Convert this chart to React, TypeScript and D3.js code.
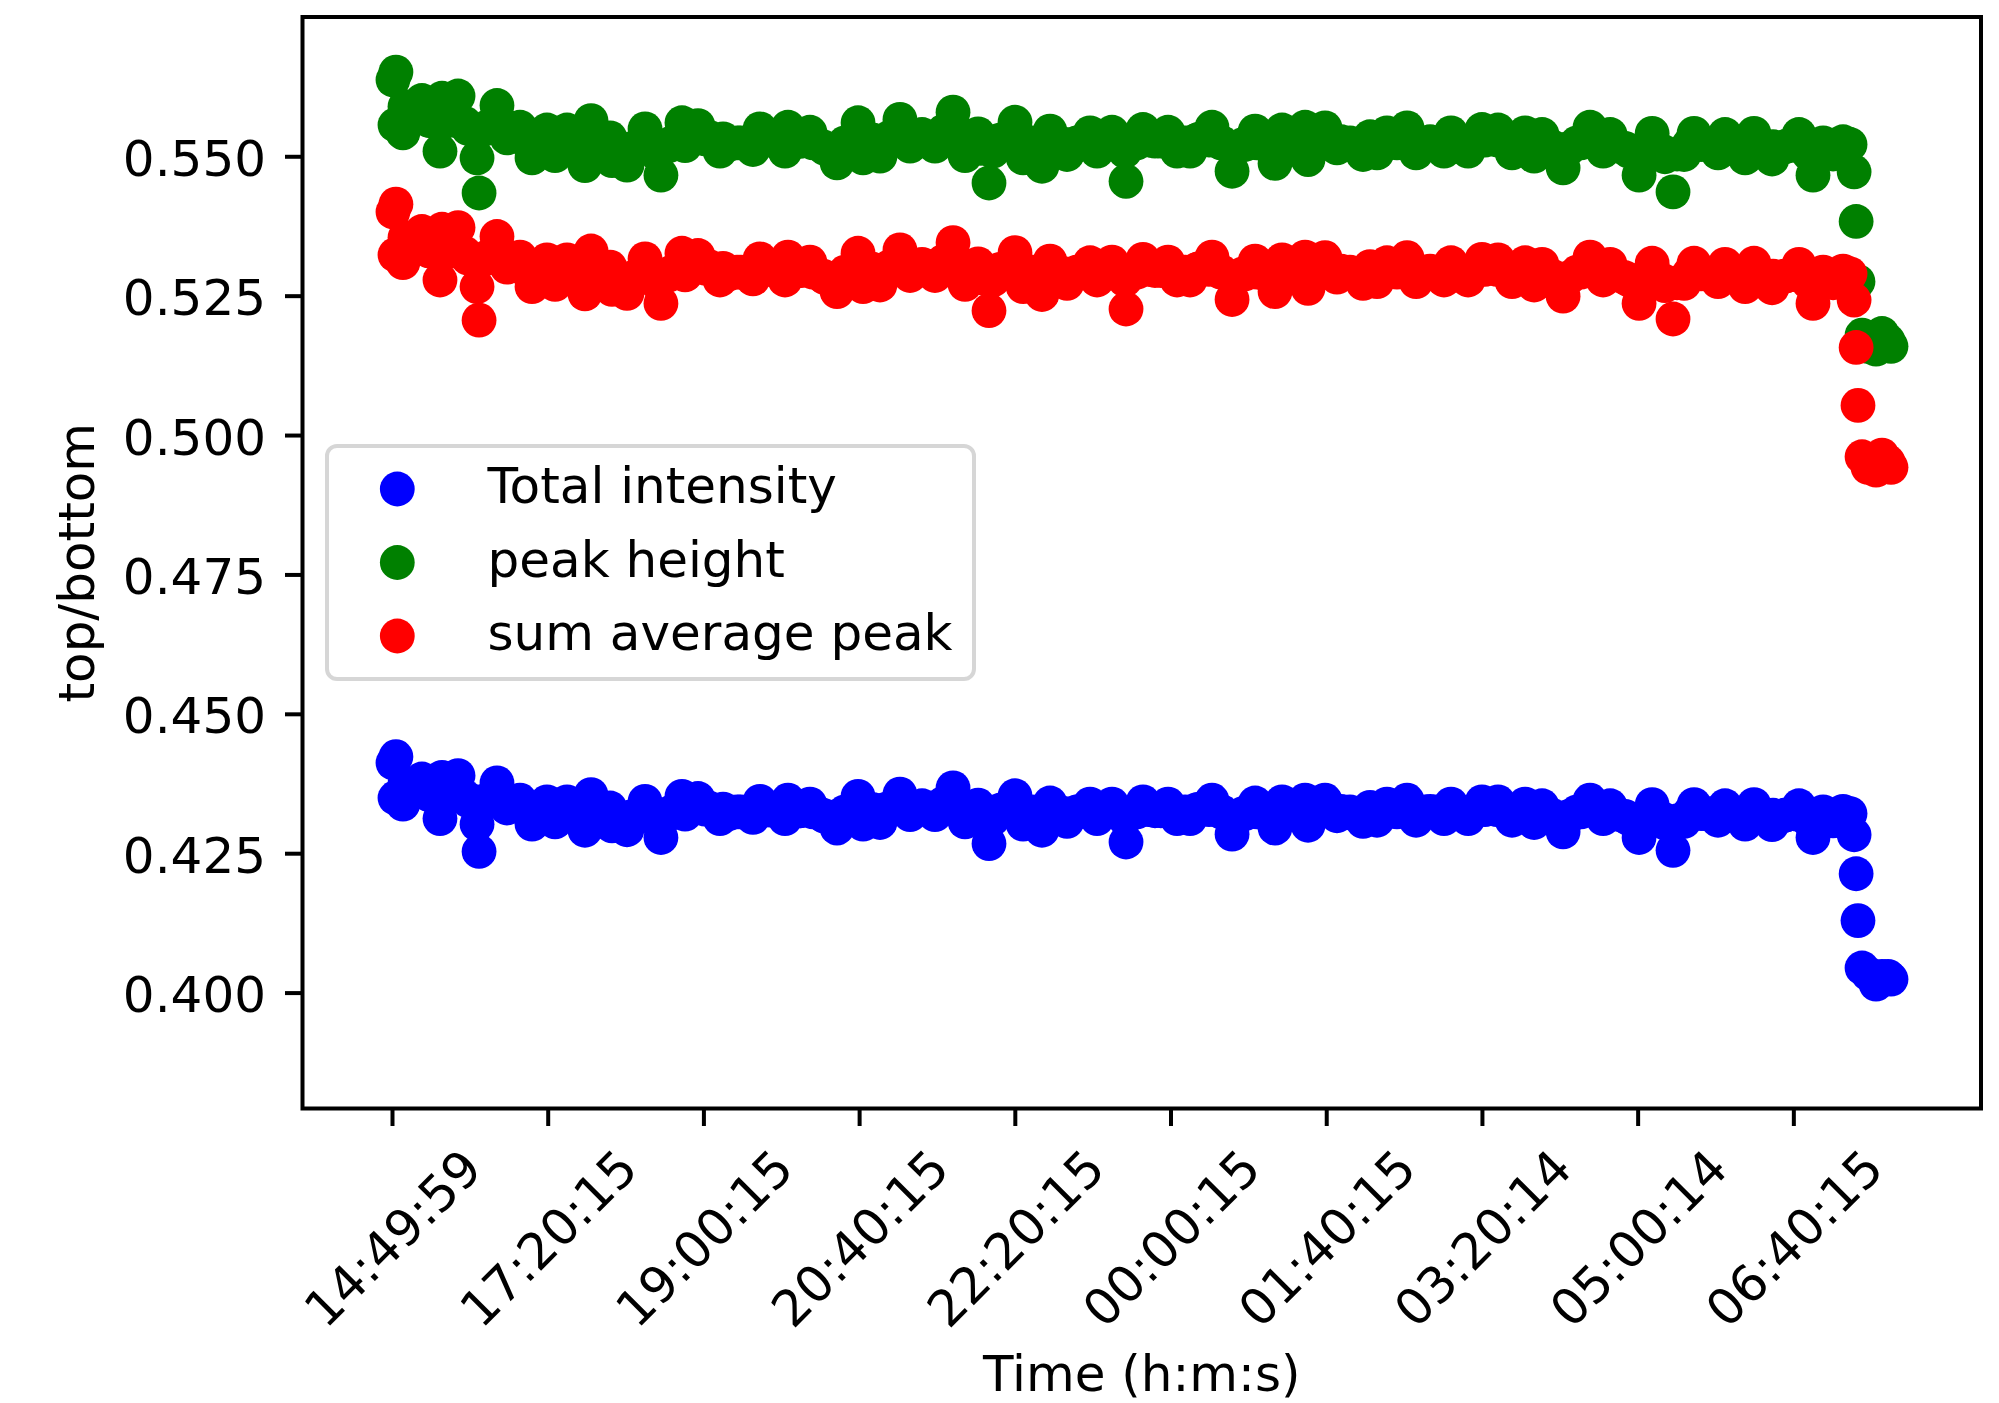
import React from "react";
import * as d3 from "d3";

// sample number along the run (x axis is the sample index; ticks every 100 samples)
// envelope samples: the visible bumps and dips along each band
const sampleIndex = [
  0.3, 1.6, 2.2, 6.7, 8.0, 18.9, 24.1, 30.5, 31.8, 40.1,
  42.1, 48.5, 54.3, 55.6, 59.4, 67.1, 72.3, 73.5, 81.9, 88.3,
  89.6, 99.2, 104.4, 106.3, 112.1, 120.4, 123.6, 127.5, 136.5, 139.7,
  141.0, 150.6, 154.5, 162.2, 168.6, 172.4, 179.5, 185.9, 187.9, 196.2,
  203.3, 210.3, 212.3, 221.3, 231.5, 236.0, 242.5, 252.1, 254.0, 261.7,
  268.1, 276.5, 285.5, 290.6, 299.0, 302.2, 308.0, 313.1, 319.5, 325.9,
  332.4, 340.1, 348.4, 353.6, 360.0, 367.7, 376.1, 383.1, 390.2, 399.8,
  405.0, 410.7, 417.1, 422.3, 427.4, 433.2, 440.3, 448.0, 452.5, 462.1,
  467.2, 471.1, 476.9, 482.0, 489.7, 498.1, 503.9, 512.2, 518.6, 526.3,
  532.7, 539.2, 546.2, 554.0, 560.4, 566.8, 571.3, 579.6, 586.1, 588.0,
  598.9, 606.6, 614.9, 623.3, 627.8, 632.3, 638.7, 645.1, 651.6, 657.4,
  666.4, 675.3, 679.8, 690.8, 699.7, 710.0, 714.5, 719.0, 727.4, 733.2,
  738.3, 744.7, 751.8, 760.8, 769.1, 777.5, 782.0, 791.6, 800.6, 809.0,
  815.4, 822.4, 829.5, 835.9, 843.6, 851.3, 855.8, 862.2, 868.7, 874.4,
  880.2, 886.0, 894.4, 903.3, 912.3, 918.8, 925.2, 931.6, 936.1, 938.7,
  940.0, 941.2, 943.8, 947.6, 952.8, 956.6, 960.5, 962.4,
];

const totalIntensity = [
  0.4413, 0.4350, 0.4424, 0.4339, 0.4368, 0.4384, 0.4356, 0.4313, 0.4387, 0.4356,
  0.4390, 0.4345, 0.4303, 0.4254, 0.4344, 0.4377, 0.4348, 0.4332, 0.4346, 0.4325,
  0.4303, 0.4343, 0.4307, 0.4325, 0.4343, 0.4325, 0.4292, 0.4356, 0.4325, 0.4332,
  0.4300, 0.4293, 0.4317, 0.4344, 0.4317, 0.4279, 0.4325, 0.4353, 0.4321, 0.4349,
  0.4332, 0.4313, 0.4330, 0.4325, 0.4315, 0.4344, 0.4328, 0.4313, 0.4346, 0.4327,
  0.4339, 0.4319, 0.4296, 0.4325, 0.4353, 0.4303, 0.4328, 0.4306, 0.4332, 0.4357,
  0.4320, 0.4336, 0.4320, 0.4340, 0.4368, 0.4307, 0.4337, 0.4268, 0.4328, 0.4354,
  0.4303, 0.4325, 0.4292, 0.4341, 0.4325, 0.4308, 0.4325, 0.4339, 0.4313, 0.4339,
  0.4322, 0.4271, 0.4325, 0.4343, 0.4327, 0.4339, 0.4313, 0.4313, 0.4330, 0.4346,
  0.4325, 0.4285, 0.4322, 0.4341, 0.4322, 0.4296, 0.4343, 0.4325, 0.4346, 0.4301,
  0.4346, 0.4318, 0.4325, 0.4308, 0.4333, 0.4310, 0.4339, 0.4325, 0.4346, 0.4310,
  0.4326, 0.4313, 0.4339, 0.4313, 0.4343, 0.4343, 0.4326, 0.4310, 0.4339, 0.4306,
  0.4336, 0.4319, 0.4289, 0.4325, 0.4346, 0.4313, 0.4336, 0.4317, 0.4279, 0.4338,
  0.4313, 0.4256, 0.4308, 0.4338, 0.4322, 0.4310, 0.4336, 0.4321, 0.4303, 0.4338,
  0.4319, 0.4302, 0.4319, 0.4336, 0.4279, 0.4325, 0.4309, 0.4326, 0.4322, 0.4284,
  0.4214, 0.4130, 0.4045, 0.4035, 0.4016, 0.4030, 0.4030, 0.4025,
];

const peakHeight = [
  0.5638, 0.5557, 0.5652, 0.5543, 0.5580, 0.5601, 0.5565, 0.5510, 0.5605, 0.5565,
  0.5609, 0.5551, 0.5498, 0.5435, 0.5550, 0.5592, 0.5555, 0.5534, 0.5553, 0.5525,
  0.5498, 0.5548, 0.5502, 0.5525, 0.5548, 0.5525, 0.5484, 0.5565, 0.5525, 0.5534,
  0.5493, 0.5485, 0.5515, 0.5550, 0.5515, 0.5467, 0.5525, 0.5561, 0.5520, 0.5556,
  0.5535, 0.5510, 0.5532, 0.5525, 0.5513, 0.5550, 0.5530, 0.5510, 0.5553, 0.5528,
  0.5544, 0.5518, 0.5489, 0.5525, 0.5561, 0.5498, 0.5530, 0.5501, 0.5535, 0.5567,
  0.5519, 0.5540, 0.5519, 0.5545, 0.5580, 0.5502, 0.5541, 0.5453, 0.5530, 0.5562,
  0.5498, 0.5525, 0.5483, 0.5546, 0.5525, 0.5504, 0.5525, 0.5543, 0.5510, 0.5544,
  0.5522, 0.5456, 0.5525, 0.5549, 0.5528, 0.5544, 0.5510, 0.5510, 0.5532, 0.5553,
  0.5525, 0.5474, 0.5522, 0.5546, 0.5522, 0.5488, 0.5548, 0.5525, 0.5553, 0.5495,
  0.5552, 0.5516, 0.5525, 0.5504, 0.5536, 0.5507, 0.5543, 0.5525, 0.5552, 0.5507,
  0.5527, 0.5510, 0.5543, 0.5510, 0.5549, 0.5548, 0.5527, 0.5507, 0.5543, 0.5501,
  0.5540, 0.5518, 0.5480, 0.5525, 0.5553, 0.5510, 0.5540, 0.5515, 0.5467, 0.5542,
  0.5510, 0.5437, 0.5504, 0.5542, 0.5522, 0.5507, 0.5540, 0.5520, 0.5498, 0.5542,
  0.5518, 0.5496, 0.5518, 0.5540, 0.5467, 0.5525, 0.5505, 0.5527, 0.5522, 0.5473,
  0.5384, 0.5276, 0.5180, 0.5160, 0.5155, 0.5183, 0.5170, 0.5160,
];

const sumAveragePeak = [
  0.5401, 0.5324, 0.5415, 0.5310, 0.5346, 0.5366, 0.5331, 0.5279, 0.5370, 0.5331,
  0.5373, 0.5318, 0.5267, 0.5207, 0.5317, 0.5357, 0.5322, 0.5302, 0.5320, 0.5293,
  0.5267, 0.5315, 0.5271, 0.5293, 0.5315, 0.5293, 0.5254, 0.5331, 0.5293, 0.5302,
  0.5262, 0.5255, 0.5283, 0.5317, 0.5283, 0.5237, 0.5293, 0.5327, 0.5288, 0.5323,
  0.5303, 0.5279, 0.5300, 0.5293, 0.5281, 0.5317, 0.5298, 0.5279, 0.5320, 0.5296,
  0.5311, 0.5286, 0.5258, 0.5293, 0.5327, 0.5267, 0.5298, 0.5270, 0.5303, 0.5333,
  0.5287, 0.5307, 0.5287, 0.5312, 0.5346, 0.5271, 0.5308, 0.5224, 0.5298, 0.5328,
  0.5267, 0.5293, 0.5253, 0.5313, 0.5293, 0.5273, 0.5293, 0.5310, 0.5279, 0.5311,
  0.5290, 0.5227, 0.5293, 0.5316, 0.5296, 0.5311, 0.5279, 0.5279, 0.5300, 0.5320,
  0.5293, 0.5244, 0.5290, 0.5313, 0.5290, 0.5258, 0.5315, 0.5293, 0.5320, 0.5264,
  0.5319, 0.5284, 0.5293, 0.5273, 0.5303, 0.5276, 0.5310, 0.5293, 0.5319, 0.5276,
  0.5295, 0.5279, 0.5310, 0.5279, 0.5316, 0.5315, 0.5295, 0.5276, 0.5310, 0.5270,
  0.5307, 0.5286, 0.5250, 0.5293, 0.5320, 0.5279, 0.5307, 0.5283, 0.5237, 0.5309,
  0.5279, 0.5209, 0.5273, 0.5309, 0.5290, 0.5276, 0.5307, 0.5288, 0.5267, 0.5309,
  0.5286, 0.5265, 0.5286, 0.5307, 0.5237, 0.5293, 0.5274, 0.5295, 0.5290, 0.5243,
  0.5158, 0.5054, 0.4962, 0.4943, 0.4938, 0.4965, 0.4953, 0.4943,
];

// band-centre samples (the solid middle of each band)
const coreIndex = [
  8.0, 15.7, 23.4, 31.1, 38.8, 46.5, 54.2, 62.0, 69.7, 77.4,
  85.1, 92.8, 100.5, 108.2, 115.9, 123.6, 131.3, 139.0, 146.7, 154.4,
  162.1, 169.8, 177.6, 185.3, 193.0, 200.7, 208.4, 216.1, 223.8, 231.5,
  239.2, 246.9, 254.6, 262.3, 270.0, 277.7, 285.5, 293.2, 300.9, 308.6,
  316.3, 324.0, 331.7, 339.4, 347.1, 354.8, 362.5, 370.2, 377.9, 385.6,
  393.4, 401.1, 408.8, 416.5, 424.2, 431.9, 439.6, 447.3, 455.0, 462.7,
  470.4, 478.1, 485.8, 493.5, 501.3, 509.0, 516.7, 524.4, 532.1, 539.8,
  547.5, 555.2, 562.9, 570.6, 578.3, 586.0, 593.7, 601.4, 609.2, 616.9,
  624.6, 632.3, 640.0, 647.7, 655.4, 663.1, 670.8, 678.5, 686.2, 693.9,
  701.6, 709.3, 717.1, 724.8, 732.5, 740.2, 747.9, 755.6, 763.3, 771.0,
  778.7, 786.4, 794.1, 801.8, 809.5, 817.2, 825.0, 832.7, 840.4, 848.1,
  855.8, 863.5, 871.2, 878.9, 886.6, 894.3, 902.0, 909.7, 917.4, 925.1,
  932.9,
];

const coreTotalIntensity = [
  0.4376, 0.4364, 0.4356, 0.4352, 0.4364, 0.4352, 0.4343, 0.4348, 0.4352, 0.4336,
  0.4329, 0.4323, 0.4325, 0.4325, 0.4325, 0.4322, 0.4329, 0.4317, 0.4313, 0.4317,
  0.4319, 0.4309, 0.4321, 0.4335, 0.4335, 0.4330, 0.4325, 0.4322, 0.4325, 0.4327,
  0.4329, 0.4329, 0.4329, 0.4327, 0.4325, 0.4317, 0.4317, 0.4325, 0.4329, 0.4329,
  0.4329, 0.4336, 0.4336, 0.4332, 0.4332, 0.4340, 0.4340, 0.4325, 0.4317, 0.4313,
  0.4327, 0.4332, 0.4321, 0.4317, 0.4325, 0.4322, 0.4325, 0.4326, 0.4326, 0.4325,
  0.4313, 0.4325, 0.4329, 0.4327, 0.4326, 0.4325, 0.4329, 0.4329, 0.4325, 0.4314,
  0.4322, 0.4325, 0.4321, 0.4322, 0.4325, 0.4325, 0.4326, 0.4330, 0.4326, 0.4322,
  0.4321, 0.4323, 0.4326, 0.4329, 0.4326, 0.4325, 0.4325, 0.4326, 0.4325, 0.4326,
  0.4329, 0.4329, 0.4325, 0.4322, 0.4321, 0.4322, 0.4313, 0.4317, 0.4325, 0.4329,
  0.4325, 0.4321, 0.4313, 0.4313, 0.4321, 0.4305, 0.4309, 0.4322, 0.4322, 0.4322,
  0.4322, 0.4319, 0.4321, 0.4321, 0.4319, 0.4319, 0.4321, 0.4309, 0.4313, 0.4313,
  0.4311,
];

const corePeakHeight = [
  0.5590, 0.5575, 0.5565, 0.5560, 0.5575, 0.5560, 0.5548, 0.5555, 0.5560, 0.5540,
  0.5530, 0.5523, 0.5525, 0.5525, 0.5525, 0.5522, 0.5530, 0.5515, 0.5510, 0.5515,
  0.5518, 0.5505, 0.5520, 0.5538, 0.5538, 0.5532, 0.5525, 0.5522, 0.5525, 0.5528,
  0.5530, 0.5530, 0.5530, 0.5528, 0.5525, 0.5515, 0.5515, 0.5525, 0.5530, 0.5530,
  0.5530, 0.5540, 0.5540, 0.5535, 0.5535, 0.5545, 0.5545, 0.5525, 0.5515, 0.5510,
  0.5528, 0.5535, 0.5520, 0.5515, 0.5525, 0.5522, 0.5525, 0.5527, 0.5527, 0.5525,
  0.5510, 0.5525, 0.5530, 0.5528, 0.5527, 0.5525, 0.5530, 0.5530, 0.5525, 0.5512,
  0.5522, 0.5525, 0.5520, 0.5522, 0.5525, 0.5525, 0.5527, 0.5532, 0.5527, 0.5522,
  0.5520, 0.5523, 0.5527, 0.5530, 0.5527, 0.5525, 0.5525, 0.5527, 0.5525, 0.5527,
  0.5530, 0.5530, 0.5525, 0.5522, 0.5520, 0.5522, 0.5510, 0.5515, 0.5525, 0.5530,
  0.5525, 0.5520, 0.5510, 0.5510, 0.5520, 0.5500, 0.5505, 0.5522, 0.5522, 0.5522,
  0.5522, 0.5518, 0.5520, 0.5520, 0.5518, 0.5518, 0.5520, 0.5505, 0.5510, 0.5510,
  0.5508,
];

const coreSumAveragePeak = [
  0.5355, 0.5341, 0.5331, 0.5327, 0.5341, 0.5327, 0.5315, 0.5322, 0.5327, 0.5307,
  0.5298, 0.5291, 0.5293, 0.5293, 0.5293, 0.5290, 0.5298, 0.5283, 0.5279, 0.5283,
  0.5286, 0.5274, 0.5288, 0.5305, 0.5305, 0.5300, 0.5293, 0.5290, 0.5293, 0.5296,
  0.5298, 0.5298, 0.5298, 0.5296, 0.5293, 0.5283, 0.5283, 0.5293, 0.5298, 0.5298,
  0.5298, 0.5307, 0.5307, 0.5303, 0.5303, 0.5312, 0.5312, 0.5293, 0.5283, 0.5279,
  0.5296, 0.5303, 0.5288, 0.5283, 0.5293, 0.5290, 0.5293, 0.5295, 0.5295, 0.5293,
  0.5279, 0.5293, 0.5298, 0.5296, 0.5295, 0.5293, 0.5298, 0.5298, 0.5293, 0.5280,
  0.5290, 0.5293, 0.5288, 0.5290, 0.5293, 0.5293, 0.5295, 0.5300, 0.5295, 0.5290,
  0.5288, 0.5291, 0.5295, 0.5298, 0.5295, 0.5293, 0.5293, 0.5295, 0.5293, 0.5295,
  0.5298, 0.5298, 0.5293, 0.5290, 0.5288, 0.5290, 0.5279, 0.5283, 0.5293, 0.5298,
  0.5293, 0.5288, 0.5279, 0.5279, 0.5288, 0.5269, 0.5274, 0.5290, 0.5290, 0.5290,
  0.5290, 0.5286, 0.5288, 0.5288, 0.5286, 0.5286, 0.5288, 0.5274, 0.5279, 0.5279,
  0.5277,
];

const xTickIndex = [0, 100, 200, 300, 400, 500, 600, 700, 800, 900];
const xTickLabels = [
  "14:49:59", "17:20:15", "19:00:15", "20:40:15", "22:20:15",
  "00:00:15", "01:40:15", "03:20:14", "05:00:14", "06:40:15",
];
const yTicks = [0.4, 0.425, 0.45, 0.475, 0.5, 0.525, 0.55];

const seriesNames = ["Total intensity", "peak height", "sum average peak"];
const seriesColors = ["#0000ff", "#008000", "#ff0000"];
const seriesValues = [totalIntensity, peakHeight, sumAveragePeak];
const seriesCore = [coreTotalIntensity, corePeakHeight, coreSumAveragePeak];

const W = 1999;
const H = 1403;
const L = 302.5;
const R = 1981;
const T = 17;
const B = 1108.5;
const FONT = "DejaVu Sans, Liberation Sans, sans-serif";
const FS = 50;
const MR = 17.4;

export default function App() {
  const x = d3.scaleLinear().domain([-57.8, 1020.2]).range([L, R]);
  const y = d3.scaleLinear().domain([0.3793, 0.57507]).range([B, T]);

  const legendY = [489, 562.5, 636];

  return (
    <svg
      width={W}
      height={H}
      viewBox={`0 0 ${W} ${H}`}
      style={{ position: "absolute", left: 0, top: 0, background: "#fff" }}
      fontFamily={FONT}
    >
      <rect x={0} y={0} width={W} height={H} fill="#fff" />
      {seriesValues.map((vals, s) => (
        <g key={s} fill={seriesColors[s]}>
          {seriesCore[s].map((v, i) => (
            <circle key={"c" + i} cx={x(coreIndex[i])} cy={y(v)} r={MR} />
          ))}
          {vals.map((v, i) => (
            <circle key={i} cx={x(sampleIndex[i])} cy={y(v)} r={MR} />
          ))}
        </g>
      ))}

      {/* spines */}
      <rect x={L} y={T} width={R - L} height={B - T} fill="none" stroke="#000" strokeWidth={4} />

      {/* y ticks */}
      {yTicks.map((t) => (
        <g key={t}>
          <line x1={L - 17.5} x2={L} y1={y(t)} y2={y(t)} stroke="#000" strokeWidth={4} />
          <text x={266} y={y(t) + 19} fontSize={FS} textAnchor="end" fill="#000">
            {d3.format(".3f")(t)}
          </text>
        </g>
      ))}

      {/* x ticks */}
      {xTickIndex.map((t, i) => (
        <g key={t}>
          <line x1={x(t)} x2={x(t)} y1={B} y2={B + 17.5} stroke="#000" strokeWidth={4} />
          <g transform={`translate(${x(t)},1238) rotate(-45)`}>
            <text x={0} y={18} fontSize={FS} textAnchor="middle" fill="#000">
              {xTickLabels[i]}
            </text>
          </g>
        </g>
      ))}

      <text x={(L + R) / 2} y={1391} fontSize={FS} textAnchor="middle" fill="#000">
        Time (h:m:s)
      </text>
      <text
        transform={`translate(93.5,${(T + B) / 2}) rotate(-90)`}
        fontSize={FS}
        textAnchor="middle"
        fill="#000"
      >
        top/bottom
      </text>

      {/* legend */}
      <rect
        x={327}
        y={446}
        width={647}
        height={233}
        rx={10}
        fill="#fff"
        fillOpacity={0.8}
        stroke="#cccccc"
        strokeOpacity={0.8}
        strokeWidth={4}
      />
      {seriesNames.map((n, i) => (
        <g key={n}>
          <circle cx={397.3} cy={legendY[i]} r={MR} fill={seriesColors[i]} />
          <text x={487.5} y={legendY[i] + 14.3} fontSize={FS} fill="#000">
            {n}
          </text>
        </g>
      ))}
    </svg>
  );
}
